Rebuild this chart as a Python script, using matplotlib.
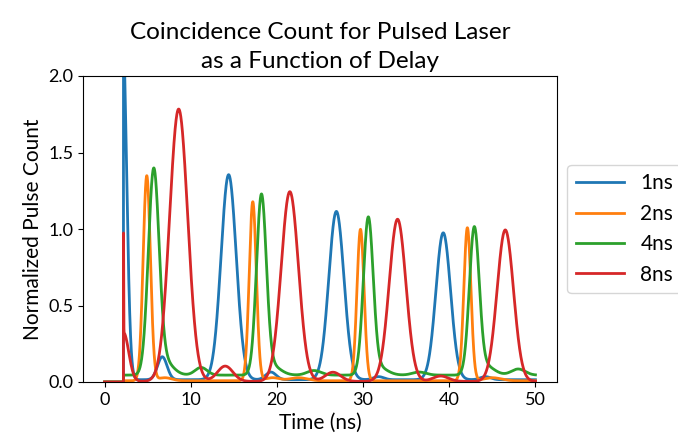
import numpy as np
import matplotlib
matplotlib.use("Agg")
import matplotlib.pyplot as plt

plt.rcParams['font.family'] = ['Lato', 'DejaVu Sans']

# pulse trains for each laser delay: start time, floor level,
# then (centre ns, height, width ns) for every pulse/bump
labels = ['1ns', '2ns', '4ns', '8ns']
colors = ['#1f77b4', '#ff7f0e', '#2ca02c', '#d62728']
t_start = 2.2
t_end = 50.0

floor_1ns = 0.015
centres_1ns = [2.1, 14.4, 26.9, 39.3, 6.7, 19.3, 31.8, 44.2]
heights_1ns = [2.3, 1.34, 1.10, 0.96, 0.15, 0.05, 0.02, 0.02]
widths_1ns = [0.45, 0.88, 0.88, 0.85, 0.55, 0.6, 0.6, 0.6]

floor_2ns = 0.008
centres_2ns = [4.9, 17.2, 29.7, 42.1, 7.0, 19.5, 22.5, 45.0]
heights_2ns = [1.34, 1.17, 0.99, 1.00, 0.02, 0.02, 0.02, 0.02]
widths_2ns = [0.42, 0.41, 0.41, 0.41, 0.8, 0.8, 1.0, 1.0]

floor_4ns = 0.045
centres_4ns = [5.7, 18.2, 30.6, 42.9,
               6.9, 19.4, 31.8, 44.2,
               11.2, 24.3, 36.5, 48.0]
heights_4ns = [1.31, 1.155, 1.01, 0.945,
               0.09, 0.06, 0.05, 0.06,
               0.05, 0.03, 0.02, 0.04]
widths_4ns = [0.62, 0.57, 0.57, 0.57,
              1.0, 1.0, 1.0, 1.0,
              0.7, 0.8, 0.8, 0.8]

floor_8ns = 0.004
centres_8ns = [2.2, 2.2, 8.6, 21.5, 34.0, 46.5, 14.0, 26.5, 39.0]
heights_8ns = [0.65, 0.32, 1.78, 1.24, 1.06, 0.99, 0.10, 0.06, 0.035]
widths_8ns = [0.02, 0.6, 1.05, 1.0, 0.97, 0.95, 0.9, 0.9, 0.9]

series = [
    (floor_1ns, centres_1ns, heights_1ns, widths_1ns),
    (floor_2ns, centres_2ns, heights_2ns, widths_2ns),
    (floor_4ns, centres_4ns, heights_4ns, widths_4ns),
    (floor_8ns, centres_8ns, heights_8ns, widths_8ns),
]


def pulse_train(t, floor, centres, heights, widths):
    y = np.full_like(t, floor)
    for c, h, w in zip(centres, heights, widths):
        y += h * np.exp(-(t - c) ** 2 / (2 * w ** 2))
    y[t < t_start] = 0.0
    return y


t = np.linspace(0, t_end, 5001)

fig = plt.figure(figsize=(6.78, 4.41), dpi=100)
ax = fig.add_axes([83 / 678, 59 / 441, 474 / 678, 306 / 441])

for (fl, c, h, w), lab, col in zip(series, labels, colors):
    ax.plot(t, pulse_train(t, fl, c, h, w), color=col, lw=2.0, label=lab)

ax.set_ylim(0, 2.0)
ax.set_xticks([0, 10, 20, 30, 40, 50])
ax.set_yticks([0.0, 0.5, 1.0, 1.5, 2.0])
ax.tick_params(labelsize=13)
ax.set_xlabel('Time (ns)', fontsize=15)
ax.set_ylabel('Normalized Pulse Count', fontsize=15)
ax.set_title('Coincidence Count for Pulsed Laser\nas a Function of Delay',
             fontsize=17.5, linespacing=1.45)
ax.legend(loc='center left', bbox_to_anchor=(1.0, 0.5), fontsize=15,
          handlelength=2.3)

fig.savefig('out.png', dpi=100)
